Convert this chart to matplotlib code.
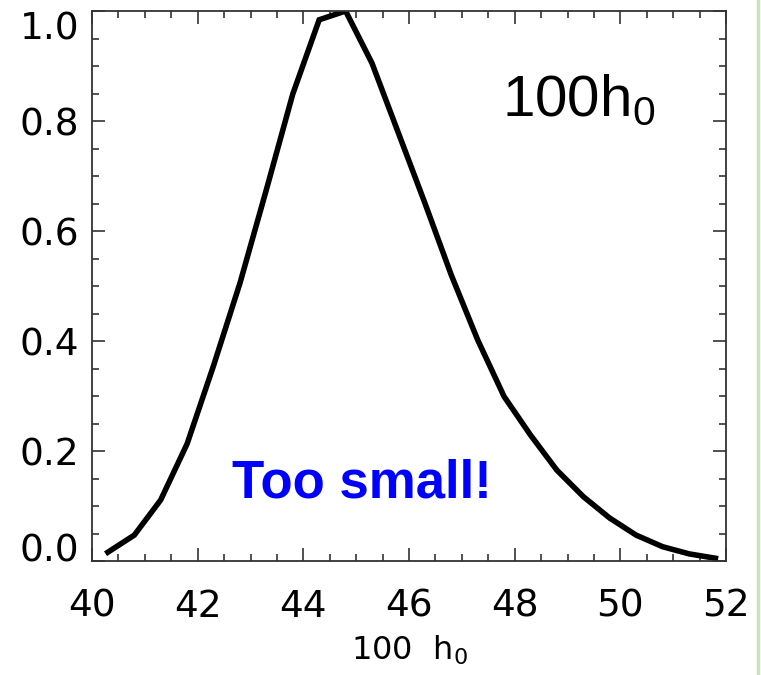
import matplotlib
matplotlib.use("Agg")
import matplotlib.pyplot as plt
from matplotlib.ticker import MultipleLocator
from matplotlib.lines import Line2D

h0_values = [40.3, 40.8, 41.3, 41.8, 42.3, 42.8, 43.3, 43.8, 44.3, 44.8, 45.3, 45.8,
             46.3, 46.8, 47.3, 47.8, 48.3, 48.8, 49.3, 49.8, 50.3, 50.8, 51.3, 51.8]
likelihood = [0.016, 0.047, 0.111, 0.213, 0.355, 0.505, 0.675, 0.849, 0.984, 1.0, 0.905, 0.778,
              0.651, 0.52, 0.402, 0.299, 0.229, 0.165, 0.117, 0.078, 0.047, 0.026, 0.013, 0.005]
x_ticks = [40, 42, 44, 46, 48, 50, 52]
y_ticks = [0.0, 0.2, 0.4, 0.6, 0.8, 1.0]

plt.rcParams["mathtext.fontset"] = "custom"
plt.rcParams["mathtext.rm"] = "Liberation Sans"

W, H = 761, 675
fig = plt.figure(figsize=(W / 100, H / 100), dpi=100)
ax = fig.add_axes([92 / W, (H - 561) / H, (726 - 92) / W, (561 - 11) / H])

ax.plot(h0_values, likelihood, color="black", lw=4.0, solid_joinstyle="miter")
ax.set_xlim(40, 52)
ax.set_ylim(0, 1.0)
ax.set_xticks(x_ticks)
ax.set_yticks(y_ticks)
ax.set_xticklabels([str(v) for v in x_ticks])
ax.set_yticklabels([f"{v:.1f}" for v in y_ticks])
ax.xaxis.set_minor_locator(MultipleLocator(0.5))
ax.yaxis.set_minor_locator(MultipleLocator(0.05))
ax.tick_params(which="both", direction="in", top=True, right=True, color="#333333", width=1.2)
ax.tick_params(which="major", length=9.5)
ax.tick_params(which="minor", length=5)
ax.tick_params(axis="x", which="major", pad=20, labelsize=27)
ax.tick_params(axis="y", which="major", pad=9, labelsize=27)
for sp in ax.spines.values():
    sp.set_color("#333333")
    sp.set_linewidth(1.3)

ylabels = ax.get_yticklabels()
ylabels[0].set_verticalalignment("baseline")
ylabels[-1].set_verticalalignment("top")

ax.set_xlabel(r"100  h$_\mathregular{0}$", fontsize=23, labelpad=6)

fig.text(502 / W, 1 - 115 / H, r"100h$_\mathregular{0}$", fontsize=42,
         family="Liberation Sans", va="baseline", ha="left")

fig.text(232 / W, 1 - 497 / H, "Too small!", fontsize=38, family="Liberation Sans",
         weight="bold", color="#0000FF", va="baseline", ha="left")

fig.add_artist(Line2D([758 / W, 758 / W], [0, 1], transform=fig.transFigure,
                      color="#c5e8b5", lw=2.5))

fig.savefig("out.png", dpi=100)
